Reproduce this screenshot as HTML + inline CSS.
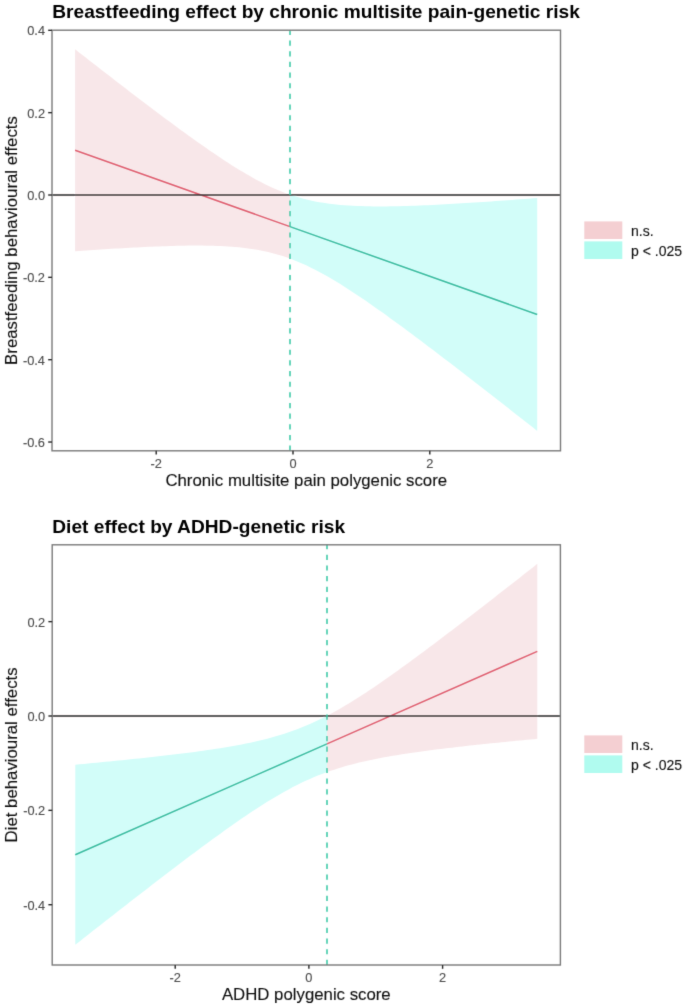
<!DOCTYPE html>
<html><head><meta charset="utf-8"><style>
html,body{margin:0;padding:0;background:#fff;}
body{width:685px;height:1006px;overflow:hidden;}
svg{display:block;will-change:transform;}
text{font-family:"Liberation Sans",sans-serif;}
.tk{font-size:12.8px;fill:#4d4d4d;stroke:#4d4d4d;stroke-width:0.12px;}
.ti{font-size:19.15px;font-weight:bold;fill:#000;}
.at{font-size:16.8px;fill:#111;stroke:#111;stroke-width:0.12px;}
.lg{font-size:14px;fill:#111;stroke:#111;stroke-width:0.12px;}
</style></head><body>
<svg width="685" height="1006" viewBox="0 0 685 1006">
<defs><filter id="bl" x="0" y="0" width="685" height="1006" filterUnits="userSpaceOnUse"><feConvolveMatrix order="3" kernelMatrix="0.01134 0.08382 0.01134 0.08382 0.61935 0.08382 0.01134 0.08382 0.01134" divisor="1" edgeMode="duplicate"/></filter></defs>
<rect width="685" height="1006" fill="#fff"/>
<g filter="url(#bl)">
<polygon points="75.10,49.30 78.74,52.15 82.38,54.99 86.03,57.83 89.67,60.67 93.31,63.51 96.95,66.34 100.60,69.16 104.24,71.99 107.88,74.81 111.52,77.62 115.17,80.43 118.81,83.24 122.45,86.04 126.09,88.84 129.74,91.63 133.38,94.41 137.02,97.19 140.66,99.97 144.31,102.73 147.95,105.49 151.59,108.24 155.23,110.98 158.87,113.72 162.52,116.44 166.16,119.16 169.80,121.86 173.44,124.55 177.09,127.23 180.73,129.90 184.37,132.55 188.01,135.19 191.66,137.81 195.30,140.42 198.94,143.00 202.58,145.57 206.23,148.11 209.87,150.63 213.51,153.12 217.15,155.59 220.79,158.02 224.44,160.43 228.08,162.80 231.72,165.13 235.36,167.42 239.01,169.67 242.65,171.87 246.29,174.03 249.93,176.12 253.58,178.16 257.22,180.14 260.86,182.06 264.50,183.91 268.15,185.68 271.79,187.38 275.43,189.00 279.07,190.55 282.72,192.01 286.36,193.39 290.00,194.68 290.00,258.60 286.36,257.30 282.72,256.09 279.07,254.97 275.43,253.92 271.79,252.95 268.15,252.07 264.50,251.25 260.86,250.51 257.22,249.84 253.58,249.23 249.93,248.68 246.29,248.19 242.65,247.76 239.01,247.37 235.36,247.03 231.72,246.74 228.08,246.48 224.44,246.26 220.79,246.08 217.15,245.93 213.51,245.81 209.87,245.71 206.23,245.64 202.58,245.60 198.94,245.57 195.30,245.57 191.66,245.59 188.01,245.62 184.37,245.67 180.73,245.73 177.09,245.81 173.44,245.91 169.80,246.01 166.16,246.13 162.52,246.25 158.87,246.39 155.23,246.53 151.59,246.69 147.95,246.85 144.31,247.02 140.66,247.20 137.02,247.38 133.38,247.58 129.74,247.77 126.09,247.98 122.45,248.18 118.81,248.40 115.17,248.62 111.52,248.84 107.88,249.07 104.24,249.30 100.60,249.53 96.95,249.77 93.31,250.02 89.67,250.26 86.03,250.51 82.38,250.76 78.74,251.02 75.10,251.28" fill="#f8e7e9"/>
<polygon points="290.00,194.68 294.19,196.06 298.38,197.34 302.57,198.51 306.76,199.57 310.95,200.53 315.14,201.40 319.33,202.17 323.52,202.86 327.71,203.47 331.90,204.01 336.09,204.48 340.28,204.88 344.47,205.23 348.66,205.52 352.85,205.76 357.04,205.96 361.23,206.12 365.42,206.24 369.61,206.33 373.80,206.38 377.99,206.40 382.18,206.40 386.37,206.38 390.56,206.33 394.75,206.26 398.94,206.17 403.13,206.06 407.32,205.94 411.51,205.81 415.69,205.66 419.88,205.49 424.07,205.32 428.26,205.13 432.45,204.93 436.64,204.73 440.83,204.51 445.02,204.29 449.21,204.06 453.40,203.82 457.59,203.57 461.78,203.32 465.97,203.06 470.16,202.80 474.35,202.53 478.54,202.26 482.73,201.98 486.92,201.70 491.11,201.41 495.30,201.12 499.49,200.82 503.68,200.52 507.87,200.22 512.06,199.92 516.25,199.61 520.44,199.30 524.63,198.98 528.82,198.66 533.01,198.34 537.20,198.02 537.20,430.90 533.01,427.60 528.82,424.30 524.63,421.01 520.44,417.72 516.25,414.43 512.06,411.14 507.87,407.86 503.68,404.58 499.49,401.31 495.30,398.03 491.11,394.77 486.92,391.50 482.73,388.24 478.54,384.99 474.35,381.73 470.16,378.49 465.97,375.25 461.78,372.01 457.59,368.78 453.40,365.56 449.21,362.35 445.02,359.14 440.83,355.94 436.64,352.74 432.45,349.56 428.26,346.39 424.07,343.22 419.88,340.07 415.69,336.93 411.51,333.80 407.32,330.69 403.13,327.59 398.94,324.51 394.75,321.44 390.56,318.40 386.37,315.37 382.18,312.37 377.99,309.39 373.80,306.44 369.61,303.51 365.42,300.62 361.23,297.77 357.04,294.95 352.85,292.17 348.66,289.43 344.47,286.75 340.28,284.12 336.09,281.55 331.90,279.04 327.71,276.60 323.52,274.23 319.33,271.94 315.14,269.74 310.95,267.63 306.76,265.62 302.57,263.70 298.38,261.89 294.19,260.19 290.00,258.60" fill="#d2fdf9"/>
<line x1="75.1" y1="150.29" x2="290.0" y2="226.64" stroke="#df5469" stroke-width="1.5"/>
<line x1="290.0" y1="226.64" x2="537.2" y2="314.46" stroke="#25ba9c" stroke-width="1.5"/>
<line x1="52.0" y1="195.0" x2="560.5" y2="195.0" stroke="#2d2929" stroke-width="1.6"/>
<line x1="290.0" y1="450.8" x2="290.0" y2="30.2" stroke="#36c8a4" stroke-width="1.5" stroke-dasharray="5.2 5.46"/>
<rect x="52.0" y="30.2" width="508.5" height="420.6" fill="none" stroke="#7a7a7a" stroke-width="1.4"/>
<line x1="48.2" y1="30.319999999999993" x2="52.0" y2="30.319999999999993" stroke="#262626" stroke-width="1.4"/>
<text x="45.0" y="35.31999999999999" text-anchor="end" class="tk">0.4</text>
<line x1="48.2" y1="112.66" x2="52.0" y2="112.66" stroke="#262626" stroke-width="1.4"/>
<text x="45.0" y="117.66" text-anchor="end" class="tk">0.2</text>
<line x1="48.2" y1="195.0" x2="52.0" y2="195.0" stroke="#262626" stroke-width="1.4"/>
<text x="45.0" y="200.0" text-anchor="end" class="tk">0.0</text>
<line x1="48.2" y1="277.34000000000003" x2="52.0" y2="277.34000000000003" stroke="#262626" stroke-width="1.4"/>
<text x="45.0" y="282.34000000000003" text-anchor="end" class="tk">-0.2</text>
<line x1="48.2" y1="359.68" x2="52.0" y2="359.68" stroke="#262626" stroke-width="1.4"/>
<text x="45.0" y="364.68" text-anchor="end" class="tk">-0.4</text>
<line x1="48.2" y1="442.02" x2="52.0" y2="442.02" stroke="#262626" stroke-width="1.4"/>
<text x="45.0" y="447.02" text-anchor="end" class="tk">-0.6</text>
<line x1="156.2" y1="450.8" x2="156.2" y2="454.6" stroke="#262626" stroke-width="1.4"/>
<text x="156.2" y="467.6" text-anchor="middle" class="tk">-2</text>
<line x1="293.0" y1="450.8" x2="293.0" y2="454.6" stroke="#262626" stroke-width="1.4"/>
<text x="293.0" y="467.6" text-anchor="middle" class="tk">0</text>
<line x1="429.8" y1="450.8" x2="429.8" y2="454.6" stroke="#262626" stroke-width="1.4"/>
<text x="429.8" y="467.6" text-anchor="middle" class="tk">2</text>
<text x="52.3" y="18.2" class="ti">Breastfeeding effect by chronic multisite pain-genetic risk</text>
<text x="16.7" y="240.5" text-anchor="middle" transform="rotate(-90 16.7 240.5)" class="at">Breastfeeding behavioural effects</text>
<text x="306.25" y="485.6" text-anchor="middle" class="at">Chronic multisite pain polygenic score</text>
<rect x="584.3" y="221.4" width="38" height="17.6" fill="#f4cfd2"/>
<rect x="584.3" y="241.4" width="38" height="17.6" fill="#b0fbef"/>
<text x="631" y="235.9" class="lg">n.s.</text>
<text x="631" y="256.0" class="lg">p &lt; .025</text>
<polygon points="75.30,764.69 79.57,764.29 83.83,763.90 88.10,763.50 92.36,763.09 96.63,762.69 100.90,762.28 105.16,761.86 109.43,761.45 113.69,761.03 117.96,760.60 122.23,760.18 126.49,759.74 130.76,759.30 135.03,758.86 139.29,758.41 143.56,757.96 147.82,757.50 152.09,757.03 156.36,756.56 160.62,756.08 164.89,755.59 169.15,755.09 173.42,754.58 177.69,754.07 181.95,753.54 186.22,753.00 190.48,752.45 194.75,751.88 199.02,751.30 203.28,750.71 207.55,750.09 211.82,749.46 216.08,748.81 220.35,748.14 224.61,747.45 228.88,746.73 233.15,745.98 237.41,745.20 241.68,744.39 245.94,743.54 250.21,742.65 254.48,741.72 258.74,740.75 263.01,739.72 267.27,738.64 271.54,737.51 275.81,736.31 280.07,735.04 284.34,733.70 288.61,732.29 292.87,730.80 297.14,729.23 301.40,727.57 305.67,725.83 309.94,723.99 314.20,722.07 318.47,720.06 322.73,717.97 327.00,715.79 327.00,772.08 322.73,773.66 318.47,775.32 314.20,777.07 309.94,778.90 305.67,780.82 301.40,782.84 297.14,784.93 292.87,787.12 288.61,789.38 284.34,791.73 280.07,794.15 275.81,796.63 271.54,799.19 267.27,801.81 263.01,804.49 258.74,807.22 254.48,810.00 250.21,812.83 245.94,815.70 241.68,818.60 237.41,821.55 233.15,824.53 228.88,827.53 224.61,830.57 220.35,833.63 216.08,836.71 211.82,839.82 207.55,842.95 203.28,846.09 199.02,849.25 194.75,852.43 190.48,855.62 186.22,858.82 181.95,862.04 177.69,865.27 173.42,868.51 169.15,871.76 164.89,875.01 160.62,878.28 156.36,881.56 152.09,884.84 147.82,888.13 143.56,891.42 139.29,894.73 135.03,898.03 130.76,901.35 126.49,904.67 122.23,907.99 117.96,911.32 113.69,914.65 109.43,917.98 105.16,921.32 100.90,924.67 96.63,928.01 92.36,931.36 88.10,934.72 83.83,938.07 79.57,941.43 75.30,944.79" fill="#d2fdf9"/>
<polygon points="327.00,715.79 330.56,713.90 334.13,711.96 337.69,709.97 341.26,707.92 344.82,705.83 348.39,703.69 351.95,701.51 355.52,699.28 359.08,697.02 362.64,694.72 366.21,692.39 369.77,690.02 373.34,687.63 376.90,685.21 380.47,682.76 384.03,680.29 387.59,677.79 391.16,675.28 394.72,672.74 398.29,670.19 401.85,667.62 405.42,665.03 408.98,662.43 412.55,659.82 416.11,657.20 419.67,654.56 423.24,651.91 426.80,649.25 430.37,646.58 433.93,643.90 437.50,641.21 441.06,638.52 444.63,635.81 448.19,633.10 451.75,630.39 455.32,627.66 458.88,624.94 462.45,622.20 466.01,619.46 469.58,616.72 473.14,613.97 476.71,611.21 480.27,608.45 483.83,605.69 487.40,602.92 490.96,600.15 494.53,597.38 498.09,594.60 501.66,591.82 505.22,589.04 508.78,586.25 512.35,583.46 515.91,580.67 519.48,577.88 523.04,575.08 526.61,572.28 530.17,569.48 533.74,566.68 537.30,563.87 537.30,738.84 533.74,739.17 530.17,739.51 526.61,739.84 523.04,740.18 519.48,740.52 515.91,740.87 512.35,741.22 508.78,741.56 505.22,741.92 501.66,742.27 498.09,742.63 494.53,742.99 490.96,743.36 487.40,743.72 483.83,744.09 480.27,744.47 476.71,744.85 473.14,745.23 469.58,745.62 466.01,746.01 462.45,746.41 458.88,746.82 455.32,747.23 451.75,747.64 448.19,748.06 444.63,748.49 441.06,748.93 437.50,749.37 433.93,749.82 430.37,750.28 426.80,750.75 423.24,751.23 419.67,751.72 416.11,752.22 412.55,752.73 408.98,753.25 405.42,753.79 401.85,754.35 398.29,754.91 394.72,755.50 391.16,756.10 387.59,756.73 384.03,757.37 380.47,758.04 376.90,758.73 373.34,759.44 369.77,760.19 366.21,760.96 362.64,761.77 359.08,762.61 355.52,763.48 351.95,764.39 348.39,765.35 344.82,766.35 341.26,767.39 337.69,768.49 334.13,769.63 330.56,770.83 327.00,772.08" fill="#f8e7e9"/>
<line x1="75.3" y1="854.74" x2="327.0" y2="743.93" stroke="#25ba9c" stroke-width="1.5"/>
<line x1="327.0" y1="743.93" x2="537.3" y2="651.35" stroke="#df5469" stroke-width="1.5"/>
<line x1="52.2" y1="716.0" x2="560.4" y2="716.0" stroke="#2d2929" stroke-width="1.6"/>
<line x1="327.0" y1="965.0" x2="327.0" y2="544.8" stroke="#36c8a4" stroke-width="1.5" stroke-dasharray="5.2 5.46"/>
<rect x="52.2" y="544.8" width="508.2" height="420.20000000000005" fill="none" stroke="#7a7a7a" stroke-width="1.4"/>
<line x1="48.400000000000006" y1="621.64" x2="52.2" y2="621.64" stroke="#262626" stroke-width="1.4"/>
<text x="45.2" y="626.64" text-anchor="end" class="tk">0.2</text>
<line x1="48.400000000000006" y1="716.0" x2="52.2" y2="716.0" stroke="#262626" stroke-width="1.4"/>
<text x="45.2" y="721.0" text-anchor="end" class="tk">0.0</text>
<line x1="48.400000000000006" y1="810.36" x2="52.2" y2="810.36" stroke="#262626" stroke-width="1.4"/>
<text x="45.2" y="815.36" text-anchor="end" class="tk">-0.2</text>
<line x1="48.400000000000006" y1="904.72" x2="52.2" y2="904.72" stroke="#262626" stroke-width="1.4"/>
<text x="45.2" y="909.72" text-anchor="end" class="tk">-0.4</text>
<line x1="175.2" y1="965.0" x2="175.2" y2="968.8" stroke="#262626" stroke-width="1.4"/>
<text x="175.2" y="981.8" text-anchor="middle" class="tk">-2</text>
<line x1="308.9" y1="965.0" x2="308.9" y2="968.8" stroke="#262626" stroke-width="1.4"/>
<text x="308.9" y="981.8" text-anchor="middle" class="tk">0</text>
<line x1="442.59999999999997" y1="965.0" x2="442.59999999999997" y2="968.8" stroke="#262626" stroke-width="1.4"/>
<text x="442.59999999999997" y="981.8" text-anchor="middle" class="tk">2</text>
<text x="52.3" y="532.8" class="ti">Diet effect by ADHD-genetic risk</text>
<text x="16.7" y="754.9" text-anchor="middle" transform="rotate(-90 16.7 754.9)" class="at">Diet behavioural effects</text>
<text x="306.3" y="999.8" text-anchor="middle" class="at">ADHD polygenic score</text>
<rect x="584.3" y="735.4" width="38" height="17.6" fill="#f4cfd2"/>
<rect x="584.3" y="755.4" width="38" height="17.6" fill="#b0fbef"/>
<text x="631" y="749.9" class="lg">n.s.</text>
<text x="631" y="770.0" class="lg">p &lt; .025</text>
</g>
</svg>
</body></html>
